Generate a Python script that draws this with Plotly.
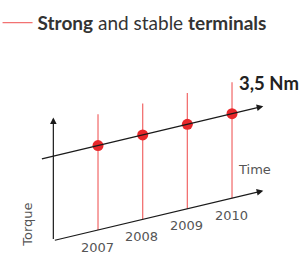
import plotly.graph_objects as go

# ---- data ----
years = [2007, 2008, 2009, 2010]
torque = [3.5, 3.5, 3.5, 3.5]          # Nm, stable over time
year_labels = ["2007", "2008", "2009", "2010"]
peak_label = "3,5 Nm"
x_title = "Time"
y_title = "Torque"
legend_name = "<b>Strong</b> and stable <b>terminals</b>"

# ---- pseudo-3D projection (skewed time axis) ----
SKEW = 0.439          # vertical drift of the time axis per year (in Nm units)
Y0 = 2007
AXIS_START = 2006.0
AXIS_END = 2010.7
TREND_START = 2005.71
STEM_TOP = 4.8
YAXIS_TOP = 5.1

def proj(year, t):
    return year, t + SKEW * (year - Y0)

RED = "#e8282b"
STEM = "#f27272"
INK = "#1a1a1a"
GREY = "#555555"

fig = go.Figure()

# red stems
sx, sy = [], []
for yr in years:
    for t in (0, STEM_TOP):
        a, b = proj(yr, t)
        sx.append(a); sy.append(b)
    sx.append(None); sy.append(None)
fig.add_trace(go.Scatter(x=sx, y=sy, mode="lines", line=dict(color=STEM, width=1.3),
                         name=legend_name, showlegend=True, hoverinfo="skip"))

# dots
px, py = zip(*[proj(yr, t) for yr, t in zip(years, torque)])
fig.add_trace(go.Scatter(x=px, y=py, mode="markers",
                         marker=dict(color=RED, size=11, line=dict(width=0)),
                         showlegend=False))

# arrows (drawn in data coordinates)
def arrow(p_from, p_to):
    fig.add_annotation(x=p_to[0], y=p_to[1], ax=p_from[0], ay=p_from[1],
                       xref="x", yref="y", axref="x", ayref="y", text="",
                       showarrow=True, arrowhead=2, arrowsize=1.1, arrowwidth=1.2,
                       arrowcolor=INK, standoff=0, startstandoff=0)

arrow(proj(TREND_START, torque[0]), proj(AXIS_END, torque[-1]))   # torque trend line
arrow(proj(AXIS_START, 0), proj(AXIS_END, 0))                     # time axis
arrow(proj(AXIS_START, 0), proj(AXIS_START, YAXIS_TOP))           # torque axis

# year labels
for yr, lab in zip(years, year_labels):
    a, b = proj(yr - 0.02, -0.7)
    fig.add_annotation(x=a, y=b, text=lab, showarrow=False,
                       font=dict(family="DejaVu Sans", size=13, color=GREY))

a, b = proj(2010.1, 1.15)
fig.add_annotation(x=a, y=b, text=x_title, showarrow=False, xanchor="left",
                   font=dict(family="DejaVu Sans", size=13, color=GREY))
a, b = proj(2005.43, 0.9)
fig.add_annotation(x=a, y=b, text=y_title, showarrow=False, textangle=-90,
                   font=dict(family="DejaVu Sans", size=13, color=GREY))
a, b = proj(2010.12, 4.72)
fig.add_annotation(x=a, y=b, text="<b>" + peak_label + "</b>", showarrow=False,
                   xanchor="left", font=dict(family="Lato", size=18.5, color="#222222"))

fig.update_layout(
    width=306, height=254,
    margin=dict(l=0, r=0, t=0, b=0, autoexpand=False),
    paper_bgcolor="white", plot_bgcolor="white",
    xaxis=dict(range=[2004.806, 2011.656], visible=False),
    yaxis=dict(range=[-0.994, 9.528], visible=False),
    showlegend=True,
    legend=dict(x=-0.008, y=0.985, xanchor="left", yanchor="top",
                font=dict(family="Lato", size=19, color="#333333"),
                bgcolor="rgba(0,0,0,0)", itemwidth=30),
)

fig.write_html("out.html", config={"displayModeBar": False},
               post_script="document.body.style.margin='0';")
